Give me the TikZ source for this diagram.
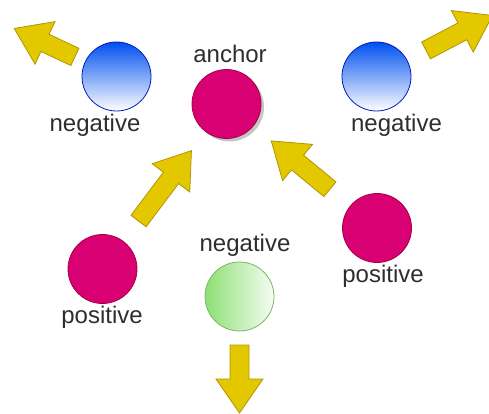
\documentclass[tikz,border=0pt]{standalone}
\usepackage{fontspec}
\setmainfont{Liberation Sans}
\usetikzlibrary{calc,shadows}

\definecolor{posfill}{HTML}{D80073}
\definecolor{posline}{HTML}{A50040}
\definecolor{negblue}{HTML}{0050EF}
\definecolor{negbline}{HTML}{001DBC}
\definecolor{neggreen}{RGB}{140,224,115}
\definecolor{neggline}{HTML}{82B366}
\definecolor{arrfill}{HTML}{E3C800}
\definecolor{arrline}{HTML}{B09500}

\tikzset{
  ball/.style={circle, minimum size=69pt, inner sep=0pt, line width=0.8pt},
  posball/.style={ball, draw=posline, fill=posfill},
  negball/.style={ball, draw=negbline, top color=negblue, bottom color=white},
  greenball/.style={ball, draw=neggline, left color=neggreen, right color=neggreen!8!white},
  tag/.style={anchor=base, text=black!82, font=\fontsize{24}{28}\selectfont},
  bigarrow/.style={draw=arrline, fill=arrfill, line width=0.8pt, line join=miter},
}

% fat arrow along the line from #1 to #2, starting #3 away from #1, #4 long
\newcommand{\fatarrow}[4]{%
  \path let \p1=(#1), \p2=(#2), \n1={atan2(\y2-\y1,\x2-\x1)} in
    \pgfextra{\xdef\arrowangle{\n1}};
  \draw[bigarrow, shift={(#1)}, rotate=\arrowangle]
    (#3,-9.5) -- (#3+#4-34,-9.5) -- (#3+#4-34,-23.5) -- (#3+#4,0)
    -- (#3+#4-34,23.5) -- (#3+#4-34,9.5) -- (#3,9.5) -- cycle;
}

\begin{document}
\begin{tikzpicture}[x=1pt,y=1pt]
    \useasboundingbox (0,0) rectangle (489,413);

    \node[posball, drop shadow={shadow xshift=3pt, shadow yshift=-3pt, fill=black!45}] (anchor) at (226.5,309) {};
    \node[negball] (neg1) at (116.5,336.5) {};
    \node[negball] (neg2) at (376.5,336.5) {};
    \node[posball] (pos1) at (102.5,144) {};
    \node[posball] (pos2) at (377,185) {};
    \node[greenball] (neg3) at (239.5,116.5) {};

    \node[tag] (anchorlbl) at (230,350) {anchor};
    \node[tag] (neg1lbl) at (95,282) {negative};
    \node[tag] (neg2lbl) at (396.5,281) {negative};
    \node[tag] (neg3lbl) at (245,162) {negative};
    \node[tag] (pos1lbl) at (102,90) {positive};
    \node[tag] (pos2lbl) at (383,131) {positive};

    \coordinate (out1) at (14,384.7);
    \coordinate (out2) at (492.6,397.6);
    \coordinate (out3) at (239.5,0);

    \foreach \from/\to/\gap/\len in {pos1/anchor/60/88, pos2/anchor/61/76,
        neg1/out1/46/67, neg2/out2/56/75, neg3/out3/48.5/68}
        \fatarrow{\from}{\to}{\gap}{\len};
\end{tikzpicture}
\end{document}
